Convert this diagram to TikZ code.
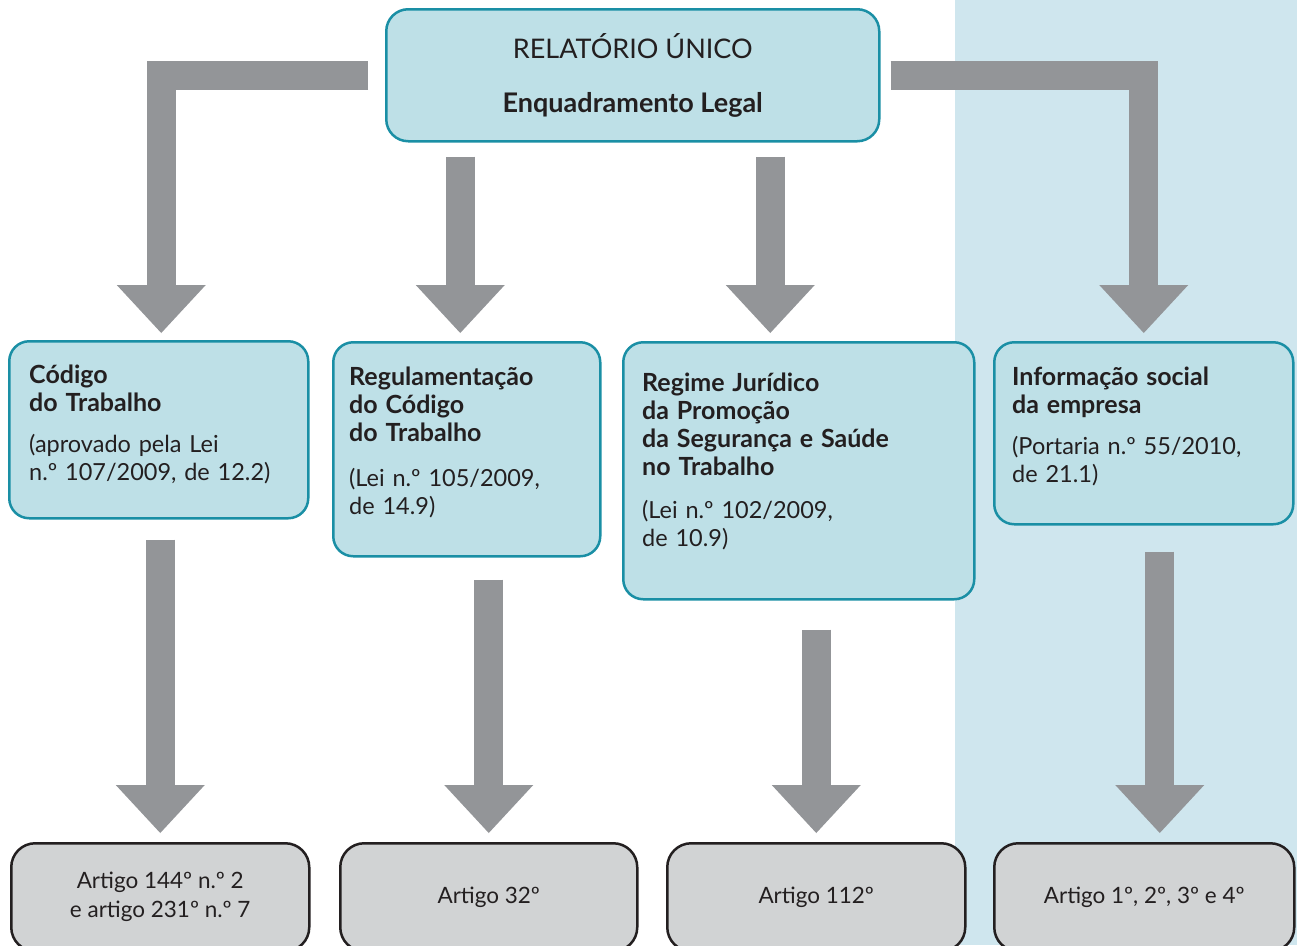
\documentclass[tikz,border=0pt]{standalone}
\usepackage{fontspec}
\setmainfont{Lato}
\usetikzlibrary{arrows.meta,positioning}
\definecolor{panelblue}{HTML}{CFE6EE}
\definecolor{boxfill}{HTML}{BEE0E7}
\definecolor{boxline}{HTML}{1A8FA5}
\definecolor{artfill}{HTML}{D1D3D4}
\definecolor{artline}{HTML}{231F20}
\definecolor{arrowgray}{HTML}{939598}
\definecolor{textdark}{HTML}{231F20}
\newcommand{\hd}[1]{{\fontsize{25}{28}\selectfont\bfseries #1}}
\begin{document}
\begin{tikzpicture}[x=1pt, y=1pt, text=textdark,
    font=\fontsize{23.5}{28}\selectfont,
    bigarrow/.style={draw=arrowgray, line width=29pt,
      -{Triangle[width=89pt,length=48pt,line width=0pt]}},
    topbox/.style={draw=boxline, line width=2.5pt, fill=boxfill, rounded corners=22pt,
      anchor=north west, minimum width=493pt, minimum height=132pt, align=center,
      font=\fontsize{27}{28}\selectfont},
    midbox/.style={draw=boxline, line width=2.5pt, fill=boxfill, rounded corners=20pt,
      anchor=north west},
    midtext/.style={anchor=north west, inner sep=0pt, text width=340pt, align=left},
    artbox/.style={draw=artline, line width=2.5pt, fill=artfill, rounded corners=24pt,
      anchor=north west, minimum width=298pt, minimum height=108pt, align=center,
      font=\fontsize{22.5}{29}\selectfont}]
  \clip (0,0) rectangle (1297,-945);
  % shaded panel on the right
  \fill[panelblue] (955,0) rectangle (1297,-945);

  % top
  \node[topbox] (top) at (385,-8)
    {RELATÓRIO ÚNICO\\[26pt] \textbf{Enquadramento Legal}};

  % middle row
  \node[midbox, minimum width=299pt, minimum height=177pt] (cod) at (8,-340) {};
  \node[midtext] (codtxt) at ([shift={(21pt,-25pt)}]cod.north west)
    {\hd{Código\\ do Trabalho}\\[13pt]
     (aprovado pela Lei\\ n.º 107/2009, de 12.2)};
  \node[midbox, minimum width=267pt, minimum height=214pt] (reg) at (332,-341) {};
  \node[midtext] (regtxt) at ([shift={(17pt,-26pt)}]reg.north west)
    {\hd{Regulamentação\\ do Código\\ do Trabalho}\\[17pt]
     (Lei n.º 105/2009,\\ de 14.9)};
  \node[midbox, minimum width=351pt, minimum height=257pt] (rjp) at (622,-341) {};
  \node[midtext] (rjptxt) at ([shift={(20pt,-32pt)}]rjp.north west)
    {\hd{Regime Jurídico\\ da Promoção\\ da Segurança e Saúde\\ no Trabalho}\\[15pt]
     (Lei n.º 102/2009,\\ de 10.9)};
  \node[midbox, minimum width=299pt, minimum height=182pt] (inf) at (993,-341) {};
  \node[midtext] (inftxt) at ([shift={(19pt,-26pt)}]inf.north west)
    {\hd{Informação social\\ da empresa}\\[13pt]
     (Portaria n.º 55/2010,\\ de 21.1)};

  % bottom row
  \node[artbox] (art1) at (10,-842) {Artigo 144º n.º 2\\ e artigo 231º n.º 7};
  \node[artbox, minimum width=297pt] (art2) at (339,-842) {Artigo 32º};
  \node[artbox] (art3) at (666,-842) {Artigo 112º};
  \node[artbox, minimum width=300pt] (art4) at (993,-842) {Artigo 1º, 2º, 3º e 4º};

  % arrows from the top
  \draw[bigarrow] ([xshift=-17pt]top.west) -| ([shift={(2.5pt,7pt)}]cod.north);
  \draw[bigarrow, shorten <=14pt, shorten >=8pt]
    ([xshift=-6.5pt]reg.north |- top.south) -- ([xshift=-6.5pt]reg.north);
  \draw[bigarrow, shorten <=14pt, shorten >=8pt]
    ([xshift=-28.5pt]rjp.north |- top.south) -- ([xshift=-28.5pt]rjp.north);
  \draw[bigarrow] ([xshift=10pt]top.east) -| ([yshift=8pt]inf.north);

  % arrows to the articles
  \draw[bigarrow, shorten <=20pt, shorten >=9pt] (cod.south -| art1.north) -- (art1.north);
  \draw[bigarrow, shorten <=22pt, shorten >=9pt] (reg.south -| art2.north) -- (art2.north);
  \draw[bigarrow, shorten <=29pt, shorten >=9pt] (rjp.south -| art3.north) -- (art3.north);
  \draw[bigarrow, shorten <=26pt, shorten >=9pt]
    ([xshift=16pt]inf.south) -- ([xshift=16pt]inf.south |- art4.north);
\end{tikzpicture}
\end{document}
